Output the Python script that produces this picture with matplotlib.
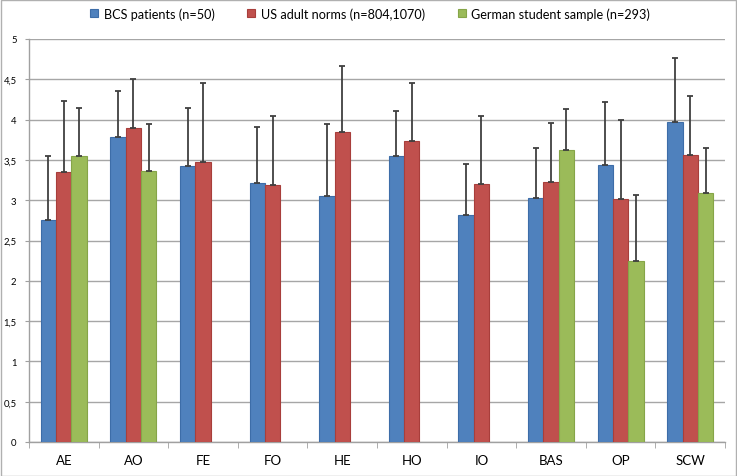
import numpy as np
import matplotlib
matplotlib.use("Agg")
import matplotlib.pyplot as plt
from matplotlib.patches import Rectangle

categories = ["AE", "AO", "FE", "FO", "HE", "HO", "IO", "BAS", "OP", "SCW"]
series_names = ["BCS patients (n=50)", "US adult norms (n=804,1070)", "German student sample (n=293)"]
bcs_mean = [2.75, 3.78, 3.42, 3.21, 3.05, 3.55, 2.82, 3.03, 3.44, 3.97]
bcs_sd = [0.80, 0.58, 0.72, 0.70, 0.90, 0.56, 0.63, 0.62, 0.78, 0.79]
us_mean = [3.35, 3.90, 3.47, 3.19, 3.85, 3.74, 3.20, 3.22, 3.02, 3.56]
us_sd = [0.88, 0.60, 0.98, 0.85, 0.81, 0.71, 0.84, 0.74, 0.97, 0.73]
ger_mean = [3.55, 3.36, np.nan, np.nan, np.nan, np.nan, np.nan, 3.62, 2.25, 3.09]
ger_sd = [0.60, 0.59, np.nan, np.nan, np.nan, np.nan, np.nan, 0.51, 0.81, 0.56]
y_ticks = [0, 0.5, 1, 1.5, 2, 2.5, 3, 3.5, 4, 4.5, 5]
y_tick_labels = ["0", "0,5", "1", "1,5", "2", "2,5", "3", "3,5", "4", "4,5", "5"]

colors = ["#4F81BD", "#C0504D", "#9BBB59"]
edges = ["#3D6DA8", "#A83E3B", "#86A548"]

plt.rcParams['font.family'] = ['Lato', 'DejaVu Sans']

fig = plt.figure(figsize=(7.37, 4.77), dpi=100)
ax = fig.add_axes([29/737, 34/477, 696/737, 403/477])

x = np.arange(len(categories)) + 0.5
w = 0.22
means = [bcs_mean, us_mean, ger_mean]
sds = [bcs_sd, us_sd, ger_sd]
for k in range(3):
    xs = x + (k - 1) * w
    m = np.array(means[k], dtype=float)
    s = np.array(sds[k], dtype=float)
    ax.bar(xs, m, width=w, color=colors[k], edgecolor=edges[k], linewidth=0.8,
           label=series_names[k], zorder=3)
    ok = ~np.isnan(m)
    ax.errorbar(xs[ok], m[ok], yerr=[np.zeros(ok.sum()), s[ok]], fmt='none',
                ecolor="#404040", elinewidth=1.3, capsize=2.5, capthick=1.3, zorder=4)

ax.set_xlim(0, len(categories))
ax.set_ylim(0, 5)
ax.set_yticks(y_ticks)
ax.set_yticklabels(y_tick_labels, fontsize=6.8)
ax.set_xticks(x)
ax.set_xticklabels(categories, fontsize=9.5)
ax.set_xticks(np.arange(len(categories) + 1), minor=True)
ax.tick_params(axis='x', which='major', length=0, pad=9)
ax.tick_params(axis='x', which='minor', length=4, color="#A0A0A0", direction='out')
ax.tick_params(axis='y', length=3, color="#A0A0A0", pad=6)
ax.yaxis.grid(True, color="#A6A6A6", linewidth=1.0, zorder=0)
ax.set_axisbelow(True)
for sp in ["top", "right"]:
    ax.spines[sp].set_visible(False)
for sp in ["left", "bottom"]:
    ax.spines[sp].set_color("#A0A0A0")
    ax.spines[sp].set_linewidth(1.0)

handles, labels = ax.get_legend_handles_labels()
leg = fig.legend(handles, labels, loc='upper center', bbox_to_anchor=(0.502, 1.007),
                 ncol=3, frameon=False, fontsize=9.1, handlelength=0.65, handleheight=0.65,
                 handletextpad=0.4, columnspacing=2.6)

fig.patches.append(Rectangle((0.5/737, 0.5/477), 1 - 1.5/737, 1 - 1.5/477,
                             transform=fig.transFigure, fill=False,
                             edgecolor="#B0B0B0", linewidth=1.0))

fig.savefig("out.png", dpi=100)
